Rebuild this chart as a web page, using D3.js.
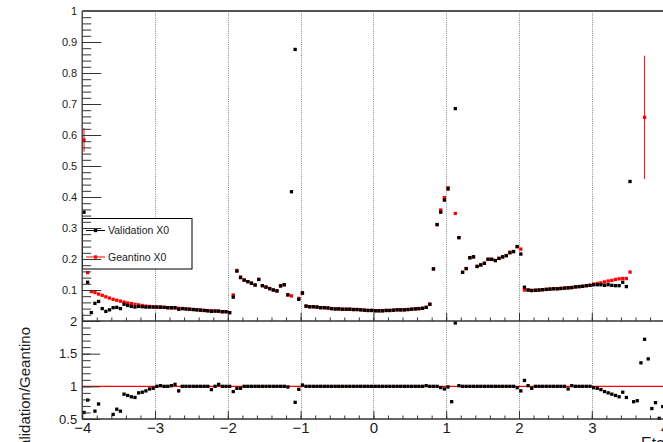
<!DOCTYPE html>
<html><head><meta charset="utf-8">
<script src="https://cdn.jsdelivr.net/npm/d3@7"></script>
<style>html,body{margin:0;padding:0;background:#fff;} svg{display:block;font-family:"Liberation Sans",Arial,Helvetica,sans-serif;}</style>
</head><body><svg id="c" width="663" height="442"></svg>
<script>
// ---- data: 0.05-wide eta bins from -4 to 4 ----
const binLow = -4;
const binWidth = 0.05;
const validation = [
0.351,0.125,0.027,0.057,0.063,0.040,0.031,0.036,0.043,0.044,
0.040,0.054,0.050,0.047,0.045,0.047,0.046,0.045,0.045,0.045,
0.045,0.045,0.044,0.043,0.043,0.043,0.038,0.040,0.039,0.038,
0.037,0.036,0.035,0.034,0.033,0.031,0.032,0.032,0.030,0.030,
0.027,0.077,0.161,0.140,0.132,0.127,0.122,0.116,0.134,0.114,
0.109,0.104,0.100,0.097,0.113,0.117,0.084,0.417,0.876,0.070,
0.091,0.048,0.046,0.046,0.045,0.043,0.043,0.042,0.040,0.039,
0.039,0.038,0.038,0.038,0.037,0.037,0.036,0.035,0.034,0.034,
0.033,0.033,0.033,0.034,0.034,0.035,0.036,0.036,0.036,0.037,
0.038,0.039,0.040,0.041,0.044,0.054,0.168,0.311,0.351,0.390,
0.426,null,0.685,0.269,0.157,0.169,0.204,0.207,0.176,0.181,
0.186,0.199,0.199,0.195,0.202,0.207,0.211,0.220,0.224,0.240,
0.216,0.109,0.100,0.098,0.099,0.100,0.101,0.102,0.103,0.104,
0.104,0.105,0.106,0.107,0.108,0.110,0.111,0.112,0.114,0.115,
0.117,0.117,0.117,0.115,0.117,0.115,0.114,0.114,0.125,0.111,
0.450,null,null,null,null,null,null,null,null,null
];
const geantino = [
0.584,0.156,0.095,0.092,0.087,0.083,0.078,0.074,0.070,0.067,
0.064,0.061,0.058,0.056,0.054,0.052,0.050,0.048,0.047,0.046,
0.045,0.044,0.044,0.043,0.042,0.042,0.041,0.040,0.039,0.038,
0.037,0.036,0.035,0.034,0.033,0.033,0.032,0.031,0.030,0.030,
0.027,0.084,0.163,0.142,0.132,0.127,0.122,0.116,0.134,0.114,
0.110,0.105,0.100,0.097,0.114,0.117,0.085,0.081,null,0.073,
0.089,0.048,0.046,0.046,0.045,0.043,0.043,0.042,0.040,0.039,
0.039,0.038,0.038,0.038,0.037,0.037,0.036,0.035,0.034,0.034,
0.033,0.033,0.033,0.034,0.034,0.035,0.036,0.036,0.036,0.037,
0.038,0.039,0.040,0.041,0.044,0.054,0.168,0.311,0.358,0.398,
0.430,null,0.347,0.269,0.157,0.169,0.204,0.207,0.176,0.181,
0.186,0.199,0.199,0.195,0.202,0.207,0.211,0.222,0.224,0.240,
0.232,0.100,0.100,0.099,0.099,0.100,0.101,0.102,0.103,0.104,
0.104,0.105,0.106,0.107,0.108,0.110,0.111,0.112,0.114,0.115,
0.119,0.121,0.123,0.126,0.129,0.131,0.134,0.136,0.137,0.137,
0.158,null,null,null,0.657,null,null,null,null,null
];
const ratio = [
0.60,0.79,null,0.62,0.73,null,null,null,0.57,0.65,
0.62,0.88,0.86,0.84,0.83,0.90,0.91,0.93,0.96,0.97,
1.00,1.01,1.00,1.00,1.01,1.03,0.93,1.00,1.00,1.00,
1.00,1.00,1.00,1.00,1.00,0.95,1.00,1.03,1.00,1.00,
1.00,0.92,0.97,0.97,1.00,1.00,1.00,1.00,1.00,1.00,
1.00,1.00,1.00,1.00,1.00,1.00,0.99,null,0.755,0.955,
1.02,1.00,1.00,1.00,1.00,1.00,1.00,1.00,1.00,1.00,
1.00,1.00,1.00,1.00,1.00,1.00,1.00,1.00,1.00,1.00,
1.00,1.00,1.00,1.00,1.00,1.00,1.00,1.00,1.00,1.00,
1.00,1.00,1.00,1.00,1.01,1.00,1.00,1.00,0.98,0.96,
0.99,0.765,1.97,1.01,1.00,1.00,1.00,1.00,1.00,1.00,
1.00,1.00,1.00,1.00,1.00,1.00,1.00,1.00,1.00,0.98,
0.93,1.09,1.01,0.97,1.00,1.00,1.00,1.00,1.00,1.00,
1.00,1.00,1.00,0.96,1.01,1.00,1.00,1.00,1.00,1.00,
0.98,0.97,0.95,0.92,0.90,0.88,0.86,0.84,0.91,0.83,
null,0.765,0.78,1.36,1.72,1.42,0.66,0.75,0.51,0.69
];
const geantinoErrBins = [0, 154];
const geantinoErrVals = [0.038, 0.199];
const xTickValues = [-4,-3,-2,-1,0,1,2,3,4];
const gridValues = [-3,-2,-1,0,1,2,3];
const topYTickValues = [0.1,0.2,0.3,0.4,0.5,0.6,0.7,0.8,0.9,1];
const botYTickValues = [0.5,1,1.5,2];
const legendLabels = ["Validation X0", "Geantino X0"];
const seriesColors = ["#000000", "#ff0000"];
const xTitle = "Eta";
const yTitleBottom = "Validation/Geantino";

// ---- layout ----
const svg = d3.select("#c");
svg.append("rect").attr("width",663).attr("height",442).attr("fill","#fff");
const X0 = 82.2, X1 = 664.6;
const x = d3.scaleLinear().domain([-4,4]).range([X0, X1]);
const yTop = d3.scaleLinear().domain([0,1]).range([321, 11]);
const yBot = d3.scaleLinear().domain([0.5,2]).range([419, 321]);
const axisColor = "#333";
const textColor = "#1a1a1a";
const centers = validation.map((_, i) => binLow + binWidth*(i+0.5));

const defs = svg.append("defs");
defs.append("clipPath").attr("id","clipTop").append("rect")
  .attr("x",X0).attr("y",yTop(1)).attr("width",X1-X0).attr("height",yTop(0)-yTop(1));
defs.append("clipPath").attr("id","clipBot").append("rect")
  .attr("x",X0).attr("y",yBot(2)).attr("width",X1-X0).attr("height",yBot(0.5)-yBot(2)+2);

// grid
svg.append("g").selectAll("line").data(gridValues).join("line")
  .attr("x1",d=>Math.round(x(d))+0.5).attr("x2",d=>Math.round(x(d))+0.5)
  .attr("y1",yTop(1)).attr("y2",yBot(0.5))
  .attr("stroke","#888").attr("stroke-width",1).attr("stroke-dasharray","1,1.2");

// ratio reference line
svg.append("line").attr("x1",X0).attr("x2",X1).attr("y1",yBot(1)).attr("y2",yBot(1))
  .attr("stroke","#ff0000").attr("stroke-width",1.2);

const M = 3.3;
function markers(g, vals, yScale, color) {
  g.selectAll("rect.m").data(vals.map((v,i)=>({v,i})).filter(d=>d.v!==null)).join("rect")
    .attr("class","m")
    .attr("x",d=>x(centers[d.i])-M/2).attr("y",d=>yScale(d.v)-M/2)
    .attr("width",M).attr("height",M).attr("fill",color);
}
const gTop = svg.append("g").attr("clip-path","url(#clipTop)");
// error bars for geantino
gTop.selectAll("line.err").data(geantinoErrBins).join("line")
  .attr("class","err")
  .attr("x1",(d)=>x(centers[d])).attr("x2",(d)=>x(centers[d]))
  .attr("y1",(d,k)=>yTop(geantino[d]+geantinoErrVals[k]))
  .attr("y2",(d,k)=>yTop(geantino[d]-geantinoErrVals[k]))
  .attr("stroke","#ff0000").attr("stroke-width",1);
markers(gTop.append("g"), geantino, yTop, seriesColors[1]);
markers(gTop.append("g"), validation, yTop, seriesColors[0]);

const gBot = svg.append("g").attr("clip-path","url(#clipBot)");
markers(gBot.append("g"), ratio, yBot, "#000");

// legend
const lg = svg.append("g");
lg.append("rect").attr("x",82.5).attr("y",218.5).attr("width",109.5).attr("height",50.5)
  .attr("fill","#fff").attr("stroke","#000").attr("stroke-width",1);
legendLabels.forEach((lab,k)=>{
  const yy = 230.5 + k*26.5;
  lg.append("line").attr("x1",86).attr("x2",105).attr("y1",yy).attr("y2",yy)
    .attr("stroke",seriesColors[k]).attr("stroke-width",1);
  lg.append("rect").attr("x",95.5-M/2).attr("y",yy-M/2).attr("width",M).attr("height",M).attr("fill",seriesColors[k]);
  lg.append("text").attr("x",108).attr("y",yy+3.8).attr("font-size",10.5).attr("fill",textColor).text(lab);
});

// axes
function styleAxis(g){
  g.select(".domain").remove();
  g.selectAll(".tick line").attr("stroke",axisColor).attr("stroke-width",1);
  g.selectAll(".tick text").attr("fill",textColor);
}
const fmt = d3.format("~g");
// top pad y
svg.append("g").attr("transform",`translate(${X0},0)`)
  .call(d3.axisLeft(yTop).tickValues(d3.range(0,1.0001,0.02)).tickSizeInner(-9).tickSizeOuter(0).tickFormat(""))
  .call(styleAxis);
svg.append("g").attr("transform",`translate(${X0},0)`).attr("font-size",11)
  .call(d3.axisLeft(yTop).tickValues(topYTickValues).tickSizeInner(-19).tickSizeOuter(0).tickPadding(5).tickFormat(fmt))
  .call(styleAxis).call(g=>g.selectAll("text").attr("font-size",11).attr("font-family",null));
// top pad x ticks
svg.append("g").attr("transform",`translate(0,${yTop(0)})`)
  .call(d3.axisBottom(x).tickValues(d3.range(-4,4.0001,0.2)).tickSizeInner(-3.5).tickSizeOuter(0).tickFormat(""))
  .call(styleAxis);
svg.append("g").attr("transform",`translate(0,${yTop(0)})`)
  .call(d3.axisBottom(x).tickValues(xTickValues).tickSizeInner(-8).tickSizeOuter(0).tickFormat(""))
  .call(styleAxis);
// bottom pad y
svg.append("g").attr("transform",`translate(${X0},0)`)
  .call(d3.axisLeft(yBot).tickValues(d3.range(0.5,2.0001,0.1)).tickSizeInner(-8.5).tickSizeOuter(0).tickFormat(""))
  .call(styleAxis);
svg.append("g").attr("transform",`translate(${X0},0)`)
  .call(d3.axisLeft(yBot).tickValues(botYTickValues).tickSizeInner(-18).tickSizeOuter(0).tickPadding(5).tickFormat(fmt))
  .call(styleAxis).call(g=>g.selectAll("text").attr("font-size",13).attr("font-family",null));
// bottom pad x
svg.append("g").attr("transform",`translate(0,${yBot(0.5)})`)
  .call(d3.axisBottom(x).tickValues(d3.range(-4,4.0001,0.2)).tickSizeInner(-3.5).tickSizeOuter(0).tickFormat(""))
  .call(styleAxis);
svg.append("g").attr("transform",`translate(0,${yBot(0.5)})`)
  .call(d3.axisBottom(x).tickValues(xTickValues).tickSizeInner(-8).tickSizeOuter(0).tickPadding(3.5).tickFormat(fmt))
  .call(styleAxis).call(g=>g.selectAll("text").attr("font-size",15).attr("font-family",null));

// axis lines / frame
const frame = svg.append("g").attr("stroke",axisColor).attr("fill","none");
frame.append("line").attr("x1",X0).attr("x2",X0).attr("y1",yTop(1)).attr("y2",yBot(0.5)).attr("stroke-width",1.3);
frame.append("line").attr("x1",X0).attr("x2",X1).attr("y1",yTop(0)).attr("y2",yTop(0)).attr("stroke-width",1.3);
frame.append("line").attr("x1",X0).attr("x2",X1).attr("y1",yBot(0.5)).attr("y2",yBot(0.5)).attr("stroke-width",1.3);
frame.append("line").attr("x1",X0).attr("x2",X1).attr("y1",yTop(1)).attr("y2",yTop(1)).attr("stroke-width",2).attr("stroke","#555");

// titles
svg.append("text").attr("transform","translate(30,327) rotate(-90)").attr("text-anchor","end")
  .attr("font-size",15).attr("fill",textColor).text(yTitleBottom);
svg.append("text").attr("x",665).attr("y",449).attr("text-anchor","end")
  .attr("font-size",16).attr("fill",textColor).text(xTitle);
</script></body></html>
